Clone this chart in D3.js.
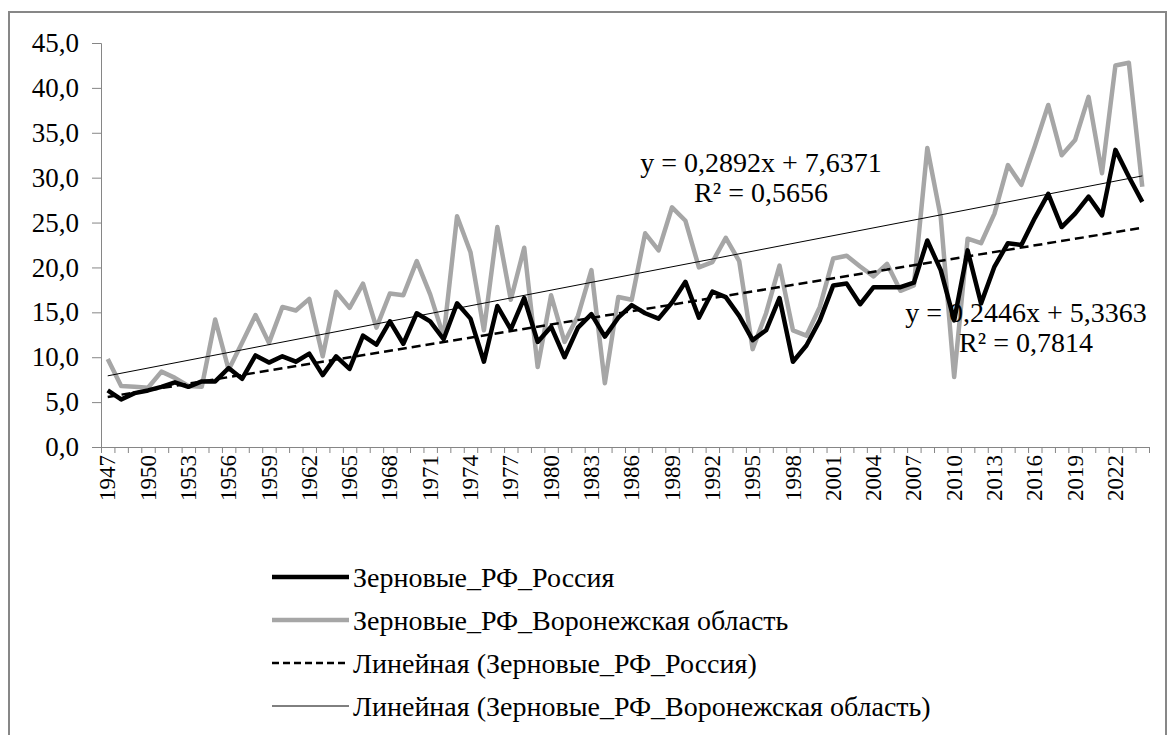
<!DOCTYPE html>
<html>
<head>
<meta charset="utf-8">
<script src="https://cdn.jsdelivr.net/npm/d3@7"></script>
<style>
  html, body { margin: 0; padding: 0; background: #fff; }
  .axis path, .axis line { stroke: #868686; }
</style>
</head>
<body>
<svg id="chart" width="1167" height="735" style="font-family: 'Liberation Serif', 'Times New Roman', serif;"></svg>
<script>
// --- DATA ---
const years = d3.range(1947, 2025);
const russia = [
  6.3, 5.3, 6.0, 6.3, 6.7, 7.2, 6.7, 7.3, 7.3, 8.8,
  7.6, 10.2, 9.4, 10.1, 9.5, 10.4, 8.0, 10.1, 8.7, 12.4,
  11.4, 14.0, 11.5, 14.9, 14.0, 12.0, 16.0, 14.3, 9.5, 15.7,
  13.1, 16.6, 11.7, 13.4, 10.0, 13.3, 14.8, 12.3, 14.4, 15.8,
  14.9, 14.3, 16.1, 18.4, 14.4, 17.3, 16.7, 14.6, 11.9, 13.0,
  16.6, 9.5, 11.3, 14.1, 18.0, 18.2, 15.9, 17.8, 17.8, 17.8,
  18.3, 23.0, 19.7, 14.1, 21.9, 16.0, 20.1, 22.7, 22.5, 25.5,
  28.2, 24.5, 26.0, 27.9, 25.8, 33.1, 30.1, 27.3
];
const voronezh = [
  9.8, 6.8, 6.7, 6.6, 8.4, 7.7, 6.8, 6.7, 14.2, 8.6,
  11.6, 14.7, 11.6, 15.6, 15.2, 16.5, 10.1, 17.3, 15.5, 18.2,
  13.3, 17.1, 16.9, 20.7, 17.0, 12.3, 25.7, 21.7, 13.0, 24.5,
  16.4, 22.2, 8.9, 16.9, 11.7, 14.6, 19.7, 7.1, 16.7, 16.4,
  23.8, 21.9, 26.7, 25.2, 20.0, 20.6, 23.3, 20.7, 10.9, 14.9,
  20.2, 13.0, 12.4, 15.6, 21.0, 21.3, 20.1, 19.0, 20.4, 17.4,
  18.0, 33.3, 25.6, 7.8, 23.2, 22.7, 26.0, 31.4, 29.2, 33.5,
  38.1, 32.5, 34.2, 39.0, 30.5, 42.5, 42.8, 29.0
];
const yTicks = [0, 5, 10, 15, 20, 25, 30, 35, 40, 45];
const xLabelYears = years.filter(y => (y - 1947) % 3 === 0);

// trend equations as printed on the chart (x = 1 for 1947)
const trendRussia = { slope: 0.2446, intercept: 5.3363, eq: "y = 0,2446x + 5,3363", r2: "R² = 0,7814" };
const trendVoronezh = { slope: 0.2892, intercept: 7.6371, eq: "y = 0,2892x + 7,6371", r2: "R² = 0,5656" };

const legendItems = [
  { label: "Зерновые_РФ_Россия", color: "#000", width: 4.5, dash: null },
  { label: "Зерновые_РФ_Воронежская область", color: "#a6a6a6", width: 4.5, dash: null },
  { label: "Линейная (Зерновые_РФ_Россия)", color: "#000", width: 2.5, dash: "7,4" },
  { label: "Линейная (Зерновые_РФ_Воронежская область)", color: "#000", width: 1, dash: null }
];

const FONT = "'Liberation Serif', 'Times New Roman', serif";

// --- SETUP ---
const plot = { left: 101, right: 1149, top: 43, bottom: 447 };
const svg = d3.select("#chart");

// outer frame
svg.append("rect")
  .attr("x", 9).attr("y", 12)
  .attr("width", 1157).attr("height", 740)
  .attr("fill", "none")
  .attr("stroke", "#878787")
  .attr("stroke-width", 2);

const x = d3.scaleBand().domain(years).range([plot.left, plot.right]).padding(0);
const xEdge = d3.scaleLinear().domain([0, years.length]).range([plot.left, plot.right]);
const y = d3.scaleLinear().domain([0, 45]).range([plot.bottom, plot.top]);
const cx = yr => x(yr) + x.bandwidth() / 2;

// y axis
svg.append("g")
  .attr("class", "axis")
  .attr("transform", `translate(${plot.left},0)`)
  .call(d3.axisLeft(y).tickValues(yTicks).tickSize(9).tickPadding(13)
    .tickFormat(d => d.toFixed(1).replace(".", ",")))
  .attr("font-family", FONT)
  .attr("font-size", 27)
  .call(g => g.selectAll("text").attr("fill", "#000"));

// x axis: tick marks between categories
svg.append("g")
  .attr("class", "axis")
  .attr("transform", `translate(0,${plot.bottom})`)
  .call(d3.axisBottom(xEdge).tickValues(d3.range(0, years.length + 1)).tickSize(6).tickFormat(""));

// x labels, rotated
svg.append("g")
  .attr("transform", `translate(0,${plot.bottom})`)
  .call(d3.axisBottom(x).tickValues(xLabelYears).tickSize(0).tickFormat(d3.format("d")))
  .attr("font-family", FONT)
  .attr("font-size", 23)
  .call(g => g.select(".domain").remove())
  .call(g => g.selectAll("text")
    .attr("fill", "#000")
    .attr("text-anchor", "end")
    .attr("dy", "0.33em")
    .attr("transform", "translate(0,8) rotate(-90)")
    .attr("x", 0).attr("y", 0));

// --- SERIES ---
const line = d3.line().x((d, i) => cx(years[i])).y(d => y(d));

svg.append("path")
  .datum(voronezh)
  .attr("d", line)
  .attr("fill", "none")
  .attr("stroke", "#a6a6a6")
  .attr("stroke-width", 4.5)
  .attr("stroke-linejoin", "round");

svg.append("path")
  .datum(russia)
  .attr("d", line)
  .attr("fill", "none")
  .attr("stroke", "#000")
  .attr("stroke-width", 4.5)
  .attr("stroke-linejoin", "round");

// trend lines
function trendPoints(t) {
  return [1, years.length].map(n => ({ yr: years[n - 1], v: t.slope * n + t.intercept }));
}
const trendLine = d3.line().x(d => cx(d.yr)).y(d => y(d.v));

svg.append("path")
  .datum(trendPoints(trendRussia))
  .attr("d", trendLine)
  .attr("fill", "none")
  .attr("stroke", "#000")
  .attr("stroke-width", 2.5)
  .attr("stroke-dasharray", "9,5");

svg.append("path")
  .datum(trendPoints(trendVoronezh))
  .attr("d", trendLine)
  .attr("fill", "none")
  .attr("stroke", "#000")
  .attr("stroke-width", 1);

// equation labels
const eqLabels = [
  { t: trendVoronezh, x: 761, y: 172 },
  { t: trendRussia, x: 1026, y: 322 }
];
eqLabels.forEach(d => {
  const g = svg.append("g").attr("font-size", 28).attr("font-family", FONT);
  g.append("text").attr("x", d.x).attr("y", d.y).attr("text-anchor", "middle").text(d.t.eq);
  g.append("text").attr("x", d.x).attr("y", d.y + 30).attr("text-anchor", "middle").text(d.t.r2);
});

// --- LEGEND ---
const legend = svg.append("g")
  .attr("transform", "translate(272,577)")
  .attr("font-family", FONT)
  .attr("font-size", 28);
legendItems.forEach((d, i) => {
  const row = legend.append("g").attr("transform", `translate(0,${i * 43})`);
  row.append("line")
    .attr("x1", 0).attr("x2", 77)
    .attr("y1", 0).attr("y2", 0)
    .attr("stroke", d.color)
    .attr("stroke-width", d.width)
    .attr("stroke-dasharray", d.dash);
  row.append("text")
    .attr("x", 81).attr("y", 0)
    .attr("dy", "0.35em")
    .text(d.label);
});
</script>
</body>
</html>
